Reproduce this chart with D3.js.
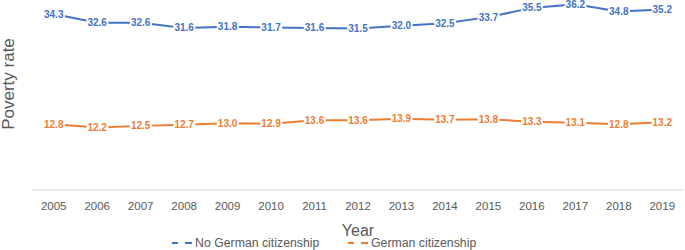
<!DOCTYPE html>
<html><head><meta charset="utf-8">
<script src="https://cdn.jsdelivr.net/npm/d3@7"></script>
<style>body{margin:0;background:#fff}svg{display:block}</style>
</head><body>
<svg id="c" width="685" height="250"></svg>
<script>
const years = ["2005","2006","2007","2008","2009","2010","2011","2012","2013","2014","2015","2016","2017","2018","2019"];
const noGerman = [34.3,32.6,32.6,31.6,31.8,31.7,31.6,31.5,32.0,32.5,33.7,35.5,36.2,34.8,35.2];
const german = [12.8,12.2,12.5,12.7,13.0,12.9,13.6,13.6,13.9,13.7,13.8,13.3,13.1,12.8,13.2];
const seriesNames = ["No German citizenship","German citizenship"];
const colors = ["#4472C4","#ED7D31"];

const svg = d3.select("#c");
const font = "'Liberation Sans', Arial, sans-serif";
const x = d3.scaleBand().domain(years).range([32, 684]);
const y = d3.scaleLinear().domain([0, 40]).range([190, -15.2]);

svg.append("line").attr("x1",32).attr("x2",684).attr("y1",190).attr("y2",190)
  .attr("stroke","#d9d9d9").attr("stroke-width",1);

const xa = svg.append("g").attr("transform","translate(0,190)")
  .call(d3.axisBottom(x).tickSize(0).tickPadding(12));
xa.select(".domain").remove();
xa.selectAll("text").attr("font-family",font).attr("font-size",11.5).attr("fill","#595959");

const all = [noGerman, german];
const line = d3.line().x((d,i)=>x(years[i])+x.bandwidth()/2).y(d=>y(d));
all.forEach((s,k)=>{
  svg.append("path").datum(s).attr("d",line).attr("fill","none")
    .attr("stroke",colors[k]).attr("stroke-width",2);
  const g = svg.append("g");
  s.forEach((v,i)=>{
    const cx = x(years[i])+x.bandwidth()/2, cy = y(v);
    const t = g.append("text").attr("x",cx).attr("y",cy).attr("dy","0.35em")
      .attr("text-anchor","middle").attr("font-family",font).attr("font-size",10)
      .attr("font-weight","bold").attr("fill",colors[k]).text(v.toFixed(1));
    const bb = t.node().getBBox();
    g.insert("rect", "text").attr("x",bb.x-1).attr("y",cy-4).attr("width",bb.width+2)
      .attr("height",8).attr("fill","#fff");
  });
});

svg.append("text").attr("transform","translate(14,84) rotate(-90)")
  .attr("text-anchor","middle").attr("font-family",font).attr("font-size",17)
  .attr("fill","#595959").text("Poverty rate");
svg.append("text").attr("x",358).attr("y",236).attr("text-anchor","middle")
  .attr("font-family",font).attr("font-size",16).attr("fill","#595959").text("Year");

const legX = [172, 348];
seriesNames.forEach((n,k)=>{
  const lx = legX[k], ly = 243;
  svg.append("line").attr("x1",lx).attr("x2",lx+6).attr("y1",ly).attr("y2",ly)
    .attr("stroke",colors[k]).attr("stroke-width",2);
  svg.append("line").attr("x1",lx+13).attr("x2",lx+20).attr("y1",ly).attr("y2",ly)
    .attr("stroke",colors[k]).attr("stroke-width",2);
  svg.append("text").attr("x",lx+23).attr("y",ly).attr("dy","0.35em")
    .attr("font-family",font).attr("font-size",12.3).attr("fill","#595959").text(n);
});
</script>
</body></html>
